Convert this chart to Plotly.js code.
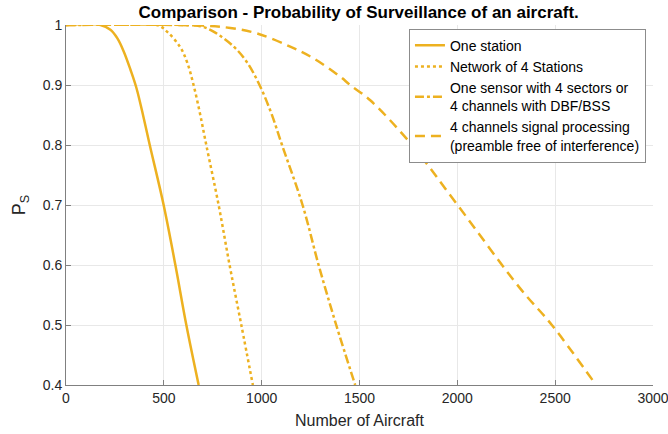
<!DOCTYPE html>
<html>
<head>
<meta charset="utf-8">
<script src="https://cdn.plot.ly/plotly-3.0.1.min.js"></script>
<style>html,body{margin:0;padding:0;background:#fff;}#chart{width:668px;height:434px;}</style>
</head>
<body>
<div id="chart"></div>
<script>
// Data
const seriesNames = [
  "One station",
  "Network of 4 Stations",
  "One sensor with 4 sectors or<br>4 channels with DBF/BSS",
  "4 channels signal processing<br>(preamble free of interference)"
];
const oneStationN = [0, 176, 227, 262, 295, 330, 360, 395, 428, 499, 559, 615, 678];
const oneStationP = [1, 1, 0.992, 0.978, 0.956, 0.925, 0.895, 0.848, 0.8, 0.7, 0.6, 0.5, 0.4];
const networkN = [0, 465, 516, 584, 620, 652, 685, 717, 780, 836, 896, 955];
const networkP = [1, 1, 0.989, 0.963, 0.937, 0.9, 0.852, 0.8, 0.7, 0.6, 0.5, 0.4];
const sectorsN = [0, 600, 687, 754, 857, 925, 989, 1048, 1104, 1209, 1291, 1381, 1478];
const sectorsP = [1, 1, 0.998, 0.989, 0.964, 0.938, 0.9, 0.854, 0.8, 0.7, 0.6, 0.5, 0.4];
const processingN = [0, 700, 840, 976, 1146, 1265, 1401, 1452, 1555, 1768, 2001, 2321, 2483, 2709];
const processingP = [1, 0.999, 0.995, 0.986, 0.964, 0.9445, 0.914, 0.9, 0.8745, 0.8, 0.7, 0.561, 0.5, 0.4];
const xTicks = [0, 500, 1000, 1500, 2000, 2500, 3000];
const yTicks = [0.4, 0.5, 0.6, 0.7, 0.8, 0.9, 1];

const color = '#EDB120';
const font = 'Liberation Sans, Arial, Helvetica, sans-serif';
const mk = (x, y, name, dash) => ({
  x: x, y: y, name: name, type: 'scatter', mode: 'lines',
  line: {color: color, width: 2.5, dash: dash, shape: 'spline', smoothing: 1}
});
const data = [
  mk(oneStationN, oneStationP, seriesNames[0], 'solid'),
  mk(networkN, networkP, seriesNames[1], 'dot'),
  mk(sectorsN, sectorsP, seriesNames[2], 'dashdot'),
  mk(processingN, processingP, seriesNames[3], '10px,6px')
];
const layout = {
  width: 668, height: 434,
  margin: {l: 66, r: 15, t: 25, b: 49},
  paper_bgcolor: '#fff', plot_bgcolor: '#fff',
  font: {family: font, color: '#262626', size: 14},
  title: {text: '<b>Comparison - Probability of Surveillance of an aircraft.</b>',
          font: {family: font, size: 17, color: '#000'},
          x: 0.537, xanchor: 'center', y: 0.972, yanchor: 'middle', yref: 'container'},
  xaxis: {range: [0, 3000], tickvals: xTicks, ticks: 'inside', ticklen: 5,
          tickcolor: '#808080', linecolor: '#808080', showline: true,
          showgrid: true, gridcolor: '#e8e8e8', zeroline: false,
          ticklabeloverflow: 'allow',
          tickfont: {size: 14, color: '#262626'},
          title: {text: 'Number of Aircraft', font: {size: 16, color: '#262626'}, standoff: 10}},
  yaxis: {range: [0.4, 1], tickvals: yTicks, ticks: 'inside', ticklen: 5,
          tickcolor: '#808080', linecolor: '#808080', showline: true,
          showgrid: true, gridcolor: '#e8e8e8', zeroline: false,
          ticklabeloverflow: 'allow',
          tickfont: {size: 14, color: '#262626'},
          title: {text: 'P<sub>S</sub>', font: {size: 18, color: '#262626'}, standoff: 12}},
  showlegend: true,
  legend: {x: 0.988, y: 0.99, xanchor: 'right', yanchor: 'top',
           bgcolor: '#fff', bordercolor: '#8c8c8c', borderwidth: 1,
           font: {size: 14, color: '#000'}, itemwidth: 30, tracegroupgap: 0}
};
Plotly.newPlot('chart', data, layout, {displayModeBar: false, staticPlot: true});
</script>
</body>
</html>
